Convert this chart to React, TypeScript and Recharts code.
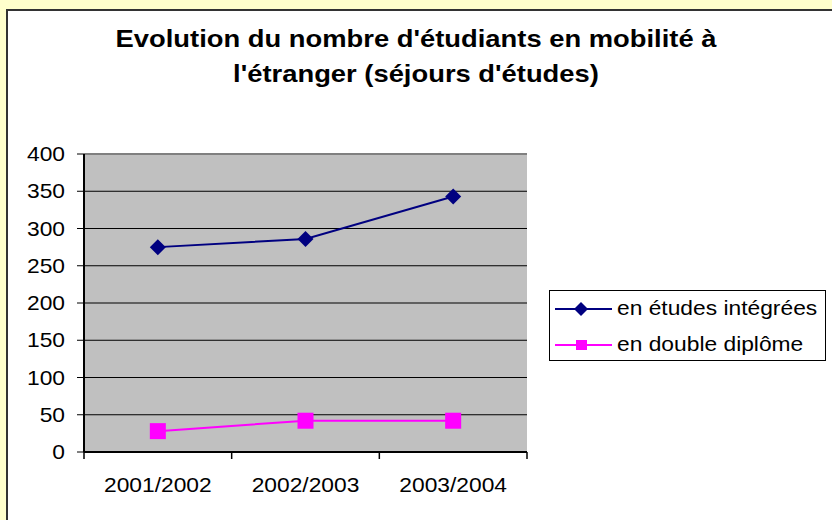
import React from 'react';
import { LineChart, Line, XAxis, YAxis, CartesianGrid, ReferenceLine, Legend } from 'recharts';

const categories = ['2001/2002', '2002/2003', '2003/2004'];
const etudesIntegrees = [275, 286, 343];
const doubleDiplome = [28, 42, 42];
const yTicks = [0, 50, 100, 150, 200, 250, 300, 350, 400];
const seriesNames = ['en études intégrées', 'en double diplôme'];
const titleLines = ["Evolution du nombre d'étudiants en mobilité à", "l'étranger (séjours d'études)"];

const data = categories.map((c, i) => ({ cat: c, a: etudesIntegrees[i], b: doubleDiplome[i] }));

const FONT = '"Liberation Sans", Arial, sans-serif';
const SX = 1.14;
const NAVY = '#000080';
const MAGENTA = '#FF00FF';

const YTick = (props: any) => {
  const { x, y, payload } = props;
  return (
    <g>
      <line x1={x - 7} x2={x} y1={y} y2={y} stroke="#000" strokeWidth={1} />
      <text
        transform={`translate(${x - 19} ${y}) scale(${SX} 1)`}
        textAnchor="end"
        dy="0.355em"
        fontFamily={FONT}
        fontSize={20}
        fill="#000"
      >
        {payload.value}
      </text>
    </g>
  );
};

const XTick = (props: any) => {
  const { x, y, payload, index } = props;
  const half = payload.offset != null && payload.offset > 0 ? payload.offset : 73.8;
  const last = index === categories.length - 1;
  return (
    <g>
      <line x1={x - half} x2={x - half} y1={y} y2={y + 7} stroke="#000" strokeWidth={1.5} />
      {last && <line x1={x + half} x2={x + half} y1={y} y2={y + 7} stroke="#000" strokeWidth={1.5} />}
      <text
        transform={`translate(${x} ${y + 33}) scale(${SX} 1)`}
        textAnchor="middle"
        dy="0.355em"
        fontFamily={FONT}
        fontSize={20}
        fill="#000"
      >
        {payload.value}
      </text>
    </g>
  );
};

const renderDiamond = (p: any) => {
  const { cx, cy, index } = p;
  if (cx == null || cy == null) return <g key={`d${index}`} />;
  const r = 8;
  return (
    <path key={`d${index}`} d={`M${cx},${cy - r}L${cx + r},${cy}L${cx},${cy + r}L${cx - r},${cy}Z`} fill={NAVY} stroke="none" />
  );
};

const renderSquare = (p: any) => {
  const { cx, cy, index } = p;
  if (cx == null || cy == null) return <g key={`s${index}`} />;
  const r = 8;
  return <rect key={`s${index}`} x={cx - r} y={cy - r} width={2 * r} height={2 * r} fill={MAGENTA} stroke="none" />;
};

const LegendBox = () => (
  <svg width={277} height={71} style={{ display: 'block' }}>
    <rect x={0.5} y={0.5} width={276} height={70} fill="#fff" stroke="#000" strokeWidth={1} />
    <line x1={6} x2={63} y1={19} y2={19} stroke={NAVY} strokeWidth={2} />
    <path d="M32,12L39,19L32,26L25,19Z" fill={NAVY} />
    <text transform={`translate(68 25) scale(${SX} 1)`} fontFamily={FONT} fontSize={20} fill="#000">
      {seriesNames[0]}
    </text>
    <line x1={6} x2={63} y1={55} y2={55} stroke={MAGENTA} strokeWidth={2} />
    <rect x={27} y={50} width={11} height={10} fill={MAGENTA} />
    <text transform={`translate(68 61) scale(${SX} 1)`} fontFamily={FONT} fontSize={20} fill="#000">
      {seriesNames[1]}
    </text>
  </svg>
);

export default function App() {
  return (
    <div style={{ position: 'absolute', left: 0, top: 0, width: 832, height: 520, background: '#FFFFCC', overflow: 'hidden' }}>
      <div
        style={{
          position: 'absolute',
          left: 6,
          top: 9,
          width: 832,
          height: 520,
          background: '#fff',
          borderTop: '2px solid #333',
          borderLeft: '2px solid #333',
        }}
      />
      <div
        style={{
          position: 'absolute',
          left: 0,
          top: 21,
          width: 832,
          textAlign: 'center',
          fontFamily: FONT,
          fontWeight: 'bold',
          fontSize: 24,
          lineHeight: '35px',
          color: '#000',
          transform: `scaleX(${SX})`,
          transformOrigin: '416px 0',
          whiteSpace: 'nowrap',
        }}
      >
        <div>{titleLines[0]}</div>
        <div>{titleLines[1]}</div>
      </div>
      <div style={{ position: 'absolute', left: 0, top: 0 }}>
        <LineChart width={832} height={520} data={data} margin={{ top: 154, right: 305, bottom: 28, left: 0 }}>
          <CartesianGrid horizontal vertical={false} stroke="#000" strokeWidth={1} fill="#C0C0C0" fillOpacity={1} />
          <ReferenceLine y={400} stroke="#808080" strokeWidth={2} />
          <XAxis
            dataKey="cat"
            scale="band"
            height={40}
            interval={0}
            axisLine={{ stroke: '#000', strokeWidth: 2 }}
            tickLine={false}
            tickSize={0}
            tickMargin={0}
            tick={XTick}
          />
          <YAxis
            width={84}
            domain={[0, 400]}
            ticks={yTicks}
            interval={0}
            axisLine={{ stroke: '#000', strokeWidth: 2 }}
            tickLine={false}
            tickSize={0}
            tickMargin={0}
            tick={YTick}
          />
          <YAxis
            yAxisId="r"
            orientation="right"
            width={0}
            domain={[0, 400]}
            axisLine={{ stroke: '#808080', strokeWidth: 2 }}
            tickLine={false}
            tick={false}
          />
          <Legend
            layout="vertical"
            align="center"
            verticalAlign="middle"
            wrapperStyle={{ left: 549, top: 290, width: 277, height: 71 }}
            content={() => <LegendBox />}
          />
          <Line
            dataKey="a"
            name={seriesNames[0]}
            stroke={NAVY}
            strokeWidth={2}
            dot={renderDiamond}
            activeDot={false}
            isAnimationActive={false}
          />
          <Line
            dataKey="b"
            name={seriesNames[1]}
            stroke={MAGENTA}
            strokeWidth={2}
            dot={renderSquare}
            activeDot={false}
            isAnimationActive={false}
          />
        </LineChart>
      </div>
    </div>
  );
}
